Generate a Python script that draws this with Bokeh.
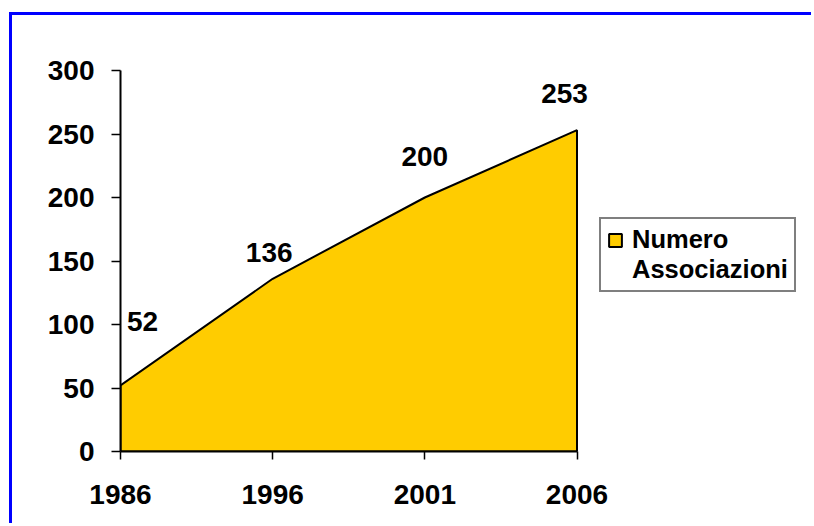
from bokeh.plotting import figure
from bokeh.models import Range1d, FixedTicker, Legend, LegendItem, ColumnDataSource
from bokeh.core.properties import value
from bokeh.embed import file_html
from bokeh.resources import INLINE

# ---- data ----
years = ["1986", "1996", "2001", "2006"]
associazioni = [52, 136, 200, 253]
y_ticks = [0, 50, 100, 150, 200, 250, 300]
legend_lines = ["Numero", "Associazioni"]

# ---- style / layout ----
FONT = "Liberation Sans"
GOLD = "#FFCC00"
label_dx = [22, -3.5, 0, -12.5]
label_dy = [-64, -26, -41, -37]

W, H = 802, 511
LEFT, RIGHT, TOP, BOTTOM = 108, 10, 55, 75
frame_w = W - LEFT - RIGHT
data_w = 456.5          # pixel span of the category axis (1986 -> 2006)

pos = list(range(len(years)))

p = figure(width=W, height=H, output_backend="svg", toolbar_location=None,
           x_range=Range1d(0, pos[-1] * frame_w / data_w), y_range=Range1d(0, 300),
           min_border_left=LEFT, min_border_right=RIGHT, min_border_top=TOP,
           min_border_bottom=BOTTOM)
p.styles = {"margin-left": "9px", "margin-top": "12px",
            "border-top": "3px solid #0000FF", "border-left": "3px solid #0000FF"}
p.background_fill_color = "white"
p.border_fill_color = "white"
p.outline_line_color = None
p.grid.visible = False

# area
px = [pos[0]] + pos + [pos[-1]]
py = [0] + associazioni + [0]
area = p.patch(px, py, fill_color=GOLD, line_color="black", line_width=2)

# data labels
src = ColumnDataSource(dict(x=pos, y=associazioni,
                            text=[str(v) for v in associazioni],
                            dx=label_dx, dy=label_dy))
p.text(x="x", y="y", text="text", x_offset="dx", y_offset="dy", source=src,
       text_font=value(FONT), text_font_style="bold", text_font_size="28px",
       text_align="center", text_baseline="alphabetic", text_color="black")

# axes
p.xaxis.ticker = FixedTicker(ticks=pos)
p.xaxis.bounds = (pos[0], pos[-1])
p.xaxis.major_label_overrides = {i: y for i, y in enumerate(years)}
p.yaxis.ticker = FixedTicker(ticks=y_ticks)
for ax in (p.xaxis[0], p.yaxis[0]):
    ax.axis_line_color = "black"
    ax.axis_line_width = 2
    ax.major_tick_line_color = "black"
    ax.major_tick_line_width = 1.5
    ax.major_tick_in = 0
    ax.minor_tick_line_color = None
    ax.major_label_text_font = FONT
    ax.major_label_text_font_style = "bold"
    ax.major_label_text_font_size = "28px"
    ax.major_label_text_color = "black"
p.yaxis.major_tick_out = 9
p.yaxis.major_label_standoff = 17
p.xaxis.major_tick_out = 8
p.xaxis.major_label_standoff = 25

# legend
dummy = p.scatter(x=[0], y=[0], alpha=0)
legend = Legend(items=[LegendItem(label=legend_lines[0], renderers=[area]),
                       LegendItem(label=legend_lines[1], renderers=[dummy])],
                location=(479, 159), padding=6, spacing=1,
                glyph_width=16, glyph_height=16, label_standoff=9,
                label_text_font=FONT, label_text_font_style="bold",
                label_text_font_size="25.5px", label_text_color="black",
                border_line_color="black", border_line_width=2,
                background_fill_color="white", background_fill_alpha=1)
p.add_layout(legend)

open("out.html", "w").write(file_html(p, INLINE))
